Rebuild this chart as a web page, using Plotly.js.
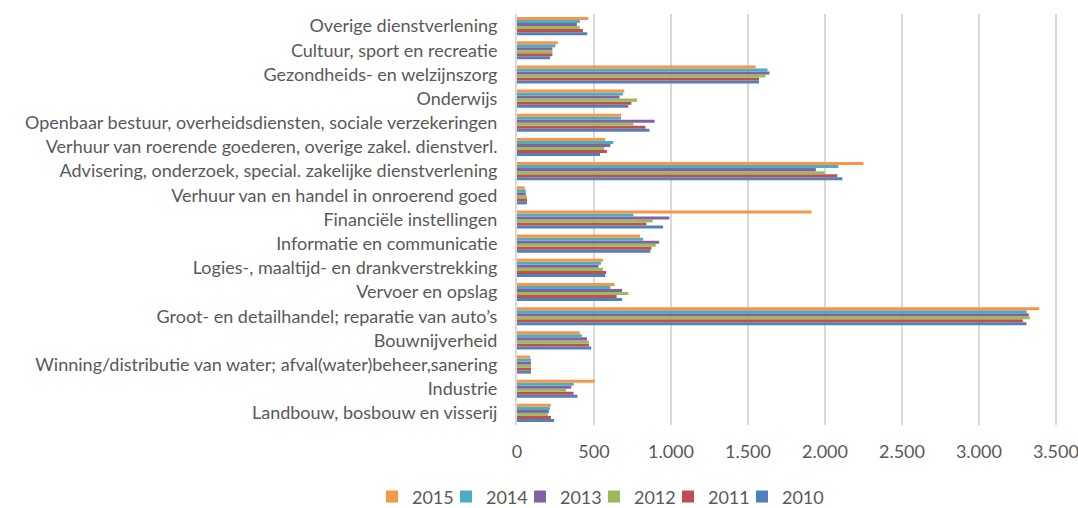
<!DOCTYPE html>
<html>
<head>
<meta charset="utf-8">
<script src="https://cdn.plot.ly/plotly-3.0.1.min.js"></script>
<style>html,body{margin:0;padding:0;background:#fff;}#chart{width:1078px;height:508px;}</style>
</head>
<body>
<div id="chart"></div>
<script>
// Categories listed bottom to top
const categories = [
  "Landbouw, bosbouw en visserij",
  "Industrie",
  "Winning/distributie van water; afval(water)beheer,sanering",
  "Bouwnijverheid",
  "Groot- en detailhandel; reparatie van auto’s",
  "Vervoer en opslag",
  "Logies-, maaltijd- en drankverstrekking",
  "Informatie en communicatie",
  "Financiële instellingen",
  "Verhuur van en handel in onroerend goed",
  "Advisering, onderzoek, special. zakelijke dienstverlening",
  "Verhuur van roerende goederen, overige zakel. dienstverl.",
  "Openbaar bestuur, overheidsdiensten, sociale verzekeringen",
  "Onderwijs",
  "Gezondheids- en welzijnszorg",
  "Cultuur, sport en recreatie",
  "Overige dienstverlening"
];
const years = ["2010", "2011", "2012", "2013", "2014", "2015"];
const v2010 = [240, 393, 91, 482, 3309, 682, 573, 866, 949, 65, 2113, 539, 860, 723, 1572, 215, 456];
const v2011 = [220, 367, 91, 467, 3285, 647, 578, 873, 840, 65, 2080, 584, 834, 743, 1572, 230, 428];
const v2012 = [200, 319, 91, 467, 3330, 723, 558, 901, 881, 65, 1998, 567, 756, 780, 1614, 230, 408];
const v2013 = [207, 352, 91, 454, 3323, 682, 530, 923, 990, 57, 1941, 606, 894, 666, 1640, 230, 389];
const v2014 = [213, 369, 91, 421, 3309, 606, 545, 819, 756, 57, 2087, 625, 676, 689, 1627, 250, 408];
const v2015 = [220, 504, 85, 408, 3392, 634, 558, 799, 1913, 50, 2250, 573, 676, 697, 1550, 265, 463];
const seriesValues = [v2010, v2011, v2012, v2013, v2014, v2015];
const colors = ["#4F81BD", "#C0504D", "#9BBB59", "#8064A2", "#4BACC6", "#F79646"];
const xTicks = [0, 500, 1000, 1500, 2000, 2500, 3000, 3500];

const fontFam = "Lato, sans-serif";
const traces = years.map((y, i) => ({
  type: "bar",
  orientation: "h",
  name: y,
  y: categories,
  x: seriesValues[i],
  marker: {color: colors[i]},
  hoverinfo: "x+name"
}));

const layout = {
  width: 1078, height: 508,
  margin: {l: 517, r: 19, t: 14, b: 83, autoexpand: false},
  barmode: "group",
  bargap: 0.25,
  bargroupgap: 0,
  separators: ",.",
  paper_bgcolor: "#fff",
  plot_bgcolor: "#fff",
  font: {family: fontFam, size: 18, color: "#595959"},
  xaxis: {
    range: [0, 3520],
    tickvals: xTicks,
    tickformat: ",d",
    showgrid: true,
    gridcolor: "#d9d9d9",
    gridwidth: 2,
    zeroline: false,
    showline: false,
    ticks: "",
    ticklabelstandoff: 14,
    ticklabeloverflow: "allow",
    tickfont: {family: fontFam, size: 18, color: "#595959"},
    automargin: false,
    fixedrange: true
  },
  yaxis: {
    type: "category",
    categoryorder: "array",
    categoryarray: categories,
    showline: true,
    linecolor: "#d9d9d9",
    linewidth: 2,
    showgrid: false,
    ticks: "",
    ticklabelstandoff: 14,
    tickfont: {family: fontFam, size: 18, color: "#595959"},
    automargin: false,
    fixedrange: true
  },
  legend: {
    orientation: "h",
    x: 0.551, xref: "container", xanchor: "center",
    y: 0.022, yref: "container", yanchor: "middle",
    traceorder: "reversed",
    font: {family: fontFam, size: 18, color: "#595959"},
    itemwidth: 30,
    entrywidth: 29,
    bgcolor: "rgba(0,0,0,0)",
    itemsizing: "constant"
  },
  showlegend: true
};

Plotly.newPlot("chart", traces, layout, {displayModeBar: false, staticPlot: true}).then(function (gd) {
  // let the last legend label overflow its fixed entry width instead of being clipped
  gd.querySelectorAll(".legend .scrollbox, .legend").forEach(function (el) {
    el.removeAttribute("clip-path");
  });
});
</script>
</body>
</html>
